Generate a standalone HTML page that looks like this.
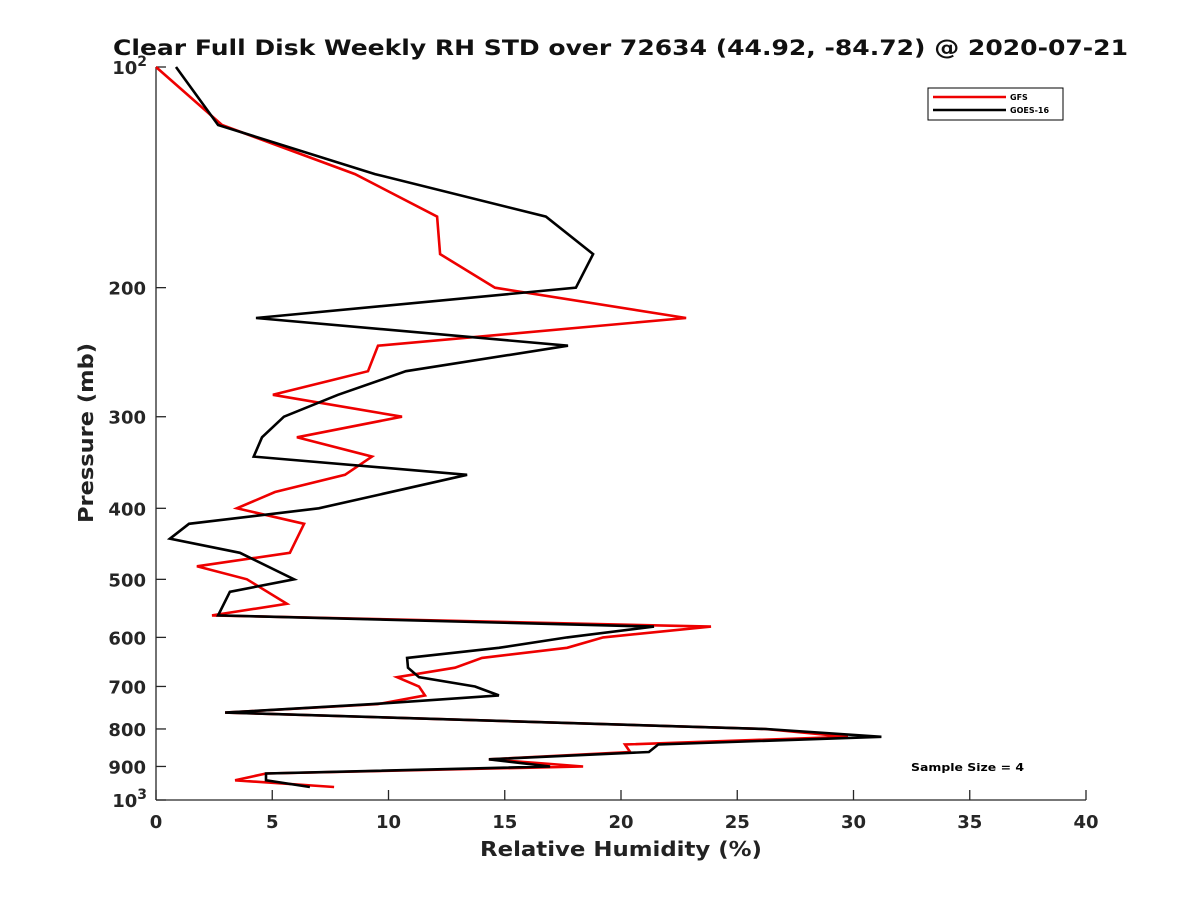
<!DOCTYPE html>
<html><head><meta charset="utf-8"><style>
html,body{margin:0;padding:0;background:#fff;}
svg{display:block;font-family:"DejaVu Sans","Liberation Sans",sans-serif;}
</style></head><body>
<svg id="chart" width="1200" height="900" viewBox="0 0 1200 900" xmlns="http://www.w3.org/2000/svg">
<rect width="1200" height="900" fill="#fff"/>
<text x="113" y="55" textLength="1015" lengthAdjust="spacingAndGlyphs" font-size="21" font-weight="bold" fill="#111">Clear Full Disk Weekly RH STD over 72634 (44.92, -84.72) @ 2020-07-21</text>
<g id="axes"></g>
<g id="series"></g>
<g>
<rect x="928" y="88" width="135" height="32" fill="#fff" stroke="#000" stroke-width="1"/>
<line x1="933" y1="97" x2="1006" y2="97" stroke="#e00" stroke-width="2.5"/>
<text x="1010" y="100" font-size="8" font-weight="bold">GFS</text>
<line x1="933" y1="110" x2="1006" y2="110" stroke="#000" stroke-width="2.5"/>
<text x="1010" y="113" font-size="8" font-weight="bold">GOES-16</text>
</g>
<text x="911" y="771" textLength="113" lengthAdjust="spacingAndGlyphs" font-size="11" font-weight="bold">Sample Size = 4</text>
<text x="480" y="856" textLength="282" lengthAdjust="spacingAndGlyphs" font-size="20" font-weight="bold" fill="#222">Relative Humidity (%)</text>
<text transform="translate(93,523) rotate(-90)" textLength="180" lengthAdjust="spacingAndGlyphs" font-size="20" font-weight="bold" fill="#222">Pressure (mb)</text>
</svg>
<script>
const gfsPressure = [100,120,140,160,180,200,220,240,260,280,300,320,340,360,380,400,420,460,480,500,540,560,580,600,620,640,660,680,700,720,740,760,800,820,840,860,880,900,920,940,960];
const gfsRH = [0,2.84,8.56,12.09,12.22,14.58,22.8,9.55,9.12,5.03,10.58,6.06,9.29,8.13,5.12,3.48,6.37,5.76,1.76,3.91,5.63,2.41,23.87,19.23,17.68,14.02,12.86,10.37,11.31,11.57,9.55,2.97,26.2,29.76,20.17,20.39,14.32,18.37,4.73,3.4,7.66];
const goesPressure = [100,120,140,160,180,200,220,240,260,280,300,320,340,360,400,420,440,460,500,520,560,580,600,620,640,660,680,700,720,740,760,800,820,840,860,880,900,920,940,960];
const goesRH = [0.86,2.67,9.42,16.77,18.8,18.06,4.3,17.72,10.75,7.83,5.5,4.56,4.2,13.38,7.0,1.42,0.6,3.61,5.94,3.18,2.67,21.42,17.68,14.75,10.8,10.84,11.31,13.72,14.75,9.33,2.97,26.24,31.2,21.6,21.2,14.32,16.95,4.73,4.73,6.62];
const xTicks = [0,5,10,15,20,25,30,35,40];
const yTicks = [100,200,300,400,500,600,700,800,900,1000];

const X0=156, X1=1086, Y0=67, Y1=800;
const xs = v => X0 + (v-0)/(40-0)*(X1-X0);
const ys = p => Y0 + Math.log10(p/100)*(Y1-Y0);
const NS='http://www.w3.org/2000/svg';
function mk(tag, attrs, parent){const e=document.createElementNS(NS,tag);for(const k in attrs)e.setAttribute(k,attrs[k]);parent.appendChild(e);return e;}
const axes=document.getElementById('axes'), series=document.getElementById('series');

let l=mk('line',{x1:X0,y1:Y0,x2:X0,y2:Y1,stroke:'#262626','stroke-width':1.3},axes);


l=mk('line',{x1:X0,y1:Y1,x2:X1,y2:Y1,stroke:'#262626','stroke-width':1.3},axes);



xTicks.forEach(v=>{
  const t=mk('line',{x1:xs(v),y1:Y1,x2:xs(v),y2:Y1-10,stroke:'#262626','stroke-width':1.3},axes);
  
  
  const tx=mk('text',{x:xs(v),y:828,'text-anchor':'middle','font-size':18,'font-weight':'bold',fill:'#262626'},axes);
  tx.textContent=String(v);
  
  
});
yTicks.forEach(p=>{
  const y=ys(p);
  const t=mk('line',{x1:X0,y1:y,x2:X0+10,y2:y,stroke:'#262626','stroke-width':1.3},axes);
  
  
  const tx=mk('text',{x:X0-10,y:y+7,'text-anchor':'end','font-size':18,'font-weight':'bold',fill:'#262626'},axes);
  if(p===100||p===1000){
    tx.textContent='10';
    const s=mk('tspan',{dy:-8,'font-size':14},tx);
    s.textContent=p===100?'2':'3';
    tx.setAttribute('x',X0-9);
  } else tx.textContent=String(p);
  
  
});

function drawLine(rh,pr,color,name){
  const pts=rh.map((v,i)=>xs(v).toFixed(1)+','+ys(pr[i]).toFixed(1)).join(' ');
  const pl=mk('polyline',{points:pts,fill:'none',stroke:color,'stroke-width':2.6,'stroke-linejoin':'miter'},series);
  
  
}
drawLine(gfsRH,gfsPressure,'#e00','gfs-line');
drawLine(goesRH,goesPressure,'#000','goes16-line');
</script>
</body></html>
